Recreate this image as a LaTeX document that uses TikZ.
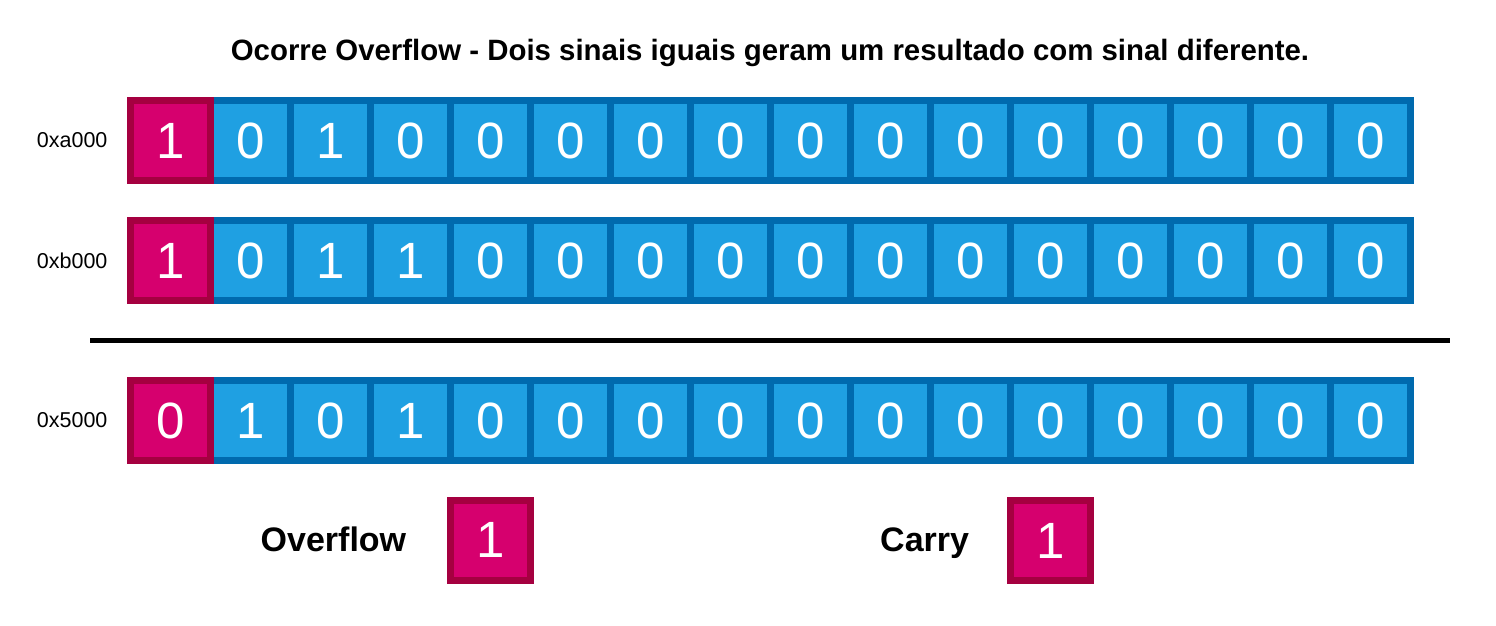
\documentclass[tikz,border=0pt]{standalone}
\usepackage{fontspec}
\setmainfont{Liberation Sans}
\usetikzlibrary{shadows}

\definecolor{bitfill}{RGB}{31,160,226}
\definecolor{bitline}{RGB}{0,106,174}
\definecolor{signfill}{RGB}{214,0,110}
\definecolor{signline}{RGB}{165,0,64}

\begin{document}
\begin{tikzpicture}[x=1pt,y=-1pt,
  cell/.style={minimum size=80pt,inner sep=0pt,line width=7pt,text=white,
    font=\fontsize{51}{51}\selectfont,
    drop shadow={shadow xshift=2pt,shadow yshift=-3pt,opacity=.3,fill=black!40}},
  bit/.style={cell,fill=bitfill,draw=bitline},
  sign/.style={cell,fill=signfill,draw=signline},
  reg/.style={anchor=east,font=\fontsize{21.5}{21.5}\selectfont}]
\useasboundingbox (0,0) rectangle (1496,626);

\node[anchor=base,font=\bfseries\fontsize{29.4}{29.4}\selectfont] (T) at (770,60)
  {Ocorre Overflow - Dois sinais iguais geram um resultado com sinal diferente.};

% first operand
\node[reg] (LA) at (111,140.5) {0xa000};
\foreach \b [count=\i] in {0,1,0,0,0,0,0,0,0,0,0,0,0,0,0}
  \node[bit] (a\i) at (170.5+80*\i,140.5) {\b};
\node[sign] (a0) at (170.5,140.5) {1};

% second operand
\node[reg] (LB) at (111,260.5) {0xb000};
\foreach \b [count=\i] in {0,1,1,0,0,0,0,0,0,0,0,0,0,0,0}
  \node[bit] (b\i) at (170.5+80*\i,260.5) {\b};
\node[sign] (b0) at (170.5,260.5) {1};

\coordinate (S1) at (90,340.5);
\coordinate (S2) at (1450,340.5);
\draw[line width=5pt] (S1) -- (S2);

% result
\node[reg] (LR) at (111,420.5) {0x5000};
\foreach \b [count=\i] in {1,0,1,0,0,0,0,0,0,0,0,0,0,0,0}
  \node[bit] (r\i) at (170.5+80*\i,420.5) {\b};
\node[sign] (r0) at (170.5,420.5) {0};

% flags
\node[anchor=base west,inner sep=0pt,font=\bfseries\fontsize{34}{34}\selectfont] (OV) at (260.5,551) {Overflow};
\node[sign] (OB) at (490.3,540) {1};
\node[anchor=base west,inner sep=0pt,font=\bfseries\fontsize{34}{34}\selectfont] (CY) at (880,551) {Carry};
\node[sign] (CB) at (1050.5,540.5) {1};
\end{tikzpicture}
\end{document}
